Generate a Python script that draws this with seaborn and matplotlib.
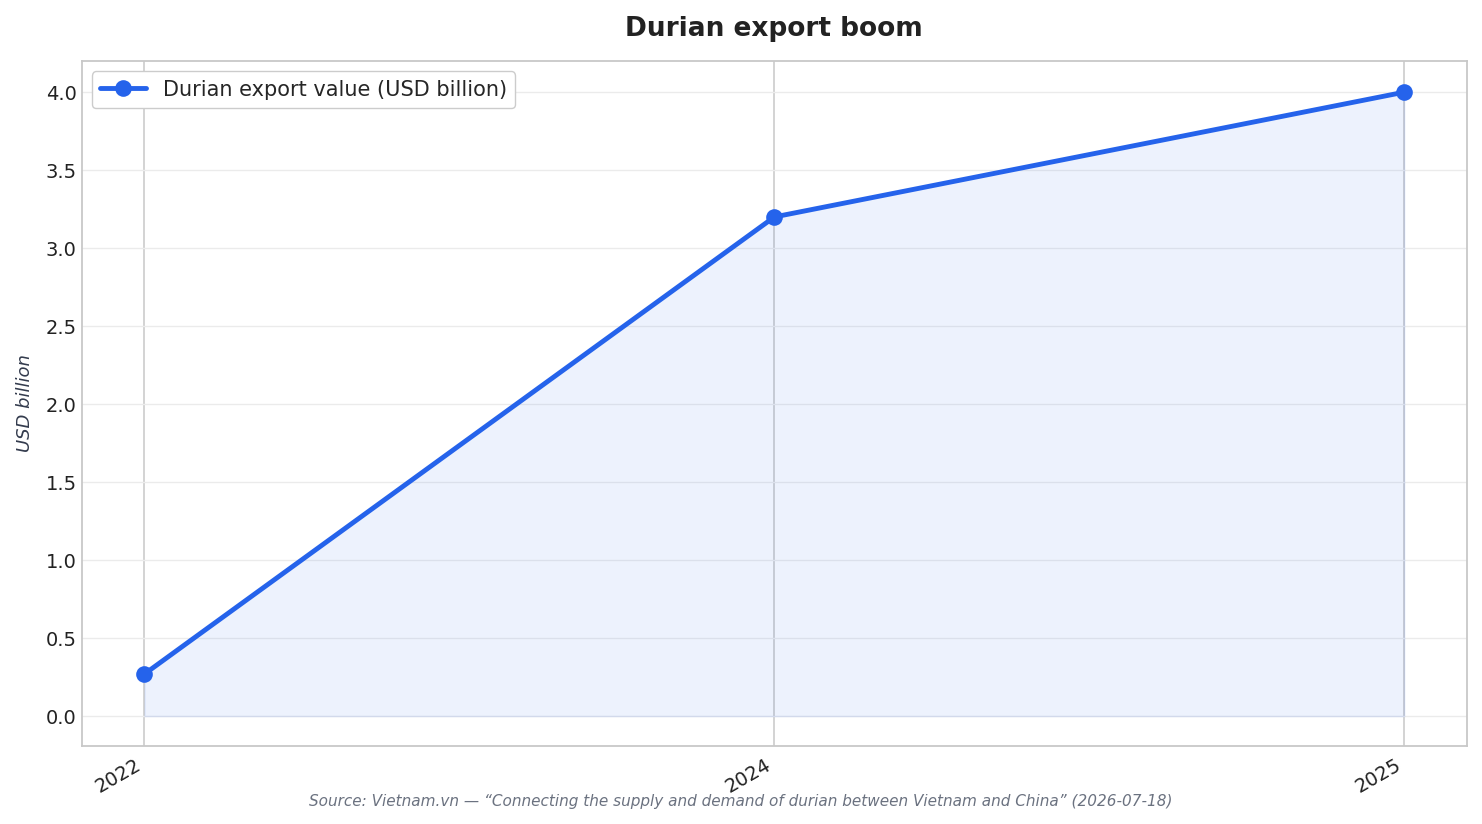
import pandas as pd
import matplotlib.pyplot as plt
import seaborn as sns

years = ["2022", "2024", "2025"]
export_value = [0.27, 3.2, 4.0]

blue = "#2563eb"

sns.set_theme(style="whitegrid")
plt.rcParams['font.family'] = ['DejaVu Sans']

df = pd.DataFrame({"Year": years, "Value": export_value})

fig, ax = plt.subplots(figsize=(14.82, 8.24), dpi=100)

sns.lineplot(x="Year", y="Value", data=df, ax=ax, color=blue, linewidth=3.5,
             marker="o", markersize=12, markeredgewidth=0,
             label="Durian export value (USD billion)")
pos = list(range(len(years)))
ax.fill_between(pos, export_value, 0, color=blue, alpha=0.08, linewidth=1.2,
                edgecolor=(0.15, 0.39, 0.92, 0.12))

ax.set_xlim(-0.1, len(years) - 0.9)
ax.set_ylim(-0.19, 4.2)
ax.set_yticks([0, 0.5, 1.0, 1.5, 2.0, 2.5, 3.0, 3.5, 4.0])

ax.grid(axis="y", color="#ebebeb", linewidth=1)
ax.grid(axis="x", color="#cccccc", linewidth=1.2)
for s in ax.spines.values():
    s.set_color("#c8c8c8")
    s.set_linewidth(1.3)

ax.tick_params(axis="both", labelsize=14, colors="#222222", length=0)
ax.tick_params(axis="x", pad=7)
plt.setp(ax.get_xticklabels(), rotation=30, ha="right")

ax.set_xlabel("")
ax.set_ylabel("USD billion", fontsize=13, style="italic", color="#333b4d", labelpad=8)
ax.set_title("Durian export boom", fontsize=19, fontweight="bold", color="#222222", pad=18)

ax.legend(loc="upper left", fontsize=15, frameon=True, edgecolor="#cccccc",
          framealpha=1, handlelength=2.2)

fig.text(0.4995, 0.022,
         "Source: Vietnam.vn \u2014 \u201cConnecting the supply and demand of durian between Vietnam and China\u201d (2026-07-18)",
         ha="center", fontsize=11, style="italic", color="#6b7280")

plt.subplots_adjust(left=0.055, right=0.99, top=0.926, bottom=0.095)
plt.savefig("out.png", dpi=100)
